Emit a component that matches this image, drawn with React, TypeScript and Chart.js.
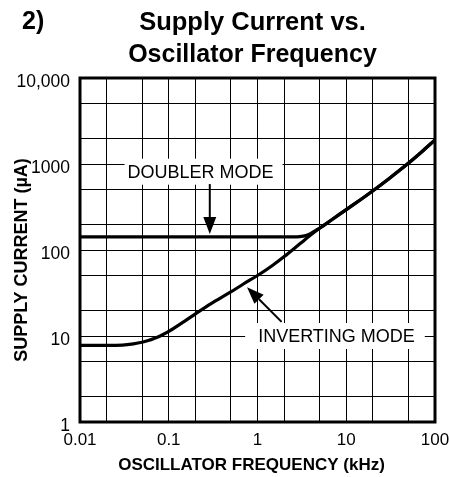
import React, { useEffect, useRef } from "react";
import { Chart, registerables } from "chart.js";

Chart.register(...registerables);

const FONT = '"Liberation Sans", Arial, Helvetica, sans-serif';

// ---- text ----
const figureNumber = "2)";
const titleLines = ["Supply Current vs.", "Oscillator Frequency"];
const xAxisTitle = "OSCILLATOR FREQUENCY (kHz)";
const yAxisTitle = "SUPPLY CURRENT (\u00b5A)";
const doublerLabel = "DOUBLER MODE";
const invertingLabel = "INVERTING MODE";

// ---- axes ----
const xMin = 0.01;
const xMax = 100;
const yMin = 1;
const yMax = 10000;
const xGridValues = [0.01, 0.02, 0.05, 0.1, 0.2, 0.5, 1, 2, 5, 10, 20, 50, 100];
const yGridValues = [1, 2, 5, 10, 20, 50, 100, 200, 500, 1000, 2000, 5000, 10000];
const xTickValues = [0.01, 0.1, 1, 10, 100];
const xTickLabels = ["0.01", "0.1", "1", "10", "100"];
const yTickValues = [1, 10, 100, 1000, 10000];
const yTickLabels = ["1", "10", "100", "1000", "10,000"];

// ---- series (kHz, µA) ----
const doublerFreq = [0.01, 0.1, 1, 2.5, 3, 3.5, 4, 4.5, 5, 7, 10, 15, 20, 30, 50, 70, 100];
const doublerCurrent = [142, 142, 142, 142, 143, 147, 156, 168, 179, 228, 295, 395, 489, 670, 1018, 1371, 1905];
const invertingFreq = [0.01, 0.02, 0.03, 0.04, 0.05, 0.06, 0.07, 0.08, 0.1, 0.15, 0.2, 0.3, 0.5, 0.7, 1, 1.5, 2, 3, 4, 5, 7, 10, 15, 20, 30, 50, 70, 100];
const invertingCurrent = [7.8, 7.8, 7.85, 8.1, 8.45, 8.9, 9.45, 10, 11.3, 14.8, 18.1, 23.8, 32.5, 40.5, 50.5, 67, 84, 118, 150, 179, 228, 295, 395, 489, 670, 1018, 1371, 1905];

// ---- annotation anchors (data coordinates) ----
const doublerLabelAt = { x: 0.228, y: 814 };
const doublerArrowFrom = { x: 0.29, y: 584 };
const doublerArrowTo = { x: 0.29, y: 153 };
const invertingLabelAt = { x: 7.76, y: 10 };
const invertingArrowFrom = { x: 1.87, y: 14.6 };
const invertingArrowTo = { x: 0.762, y: 36.9 };

function drawArrow(ctx: CanvasRenderingContext2D, x1: number, y1: number, x2: number, y2: number) {
  const ang = Math.atan2(y2 - y1, x2 - x1);
  const headLen = 17;
  const headHalf = 6.5;
  const bx = x2 - headLen * Math.cos(ang);
  const by = y2 - headLen * Math.sin(ang);
  ctx.save();
  ctx.strokeStyle = "#000";
  ctx.fillStyle = "#000";
  ctx.lineWidth = 2;
  ctx.beginPath();
  ctx.moveTo(x1, y1);
  ctx.lineTo(bx, by);
  ctx.stroke();
  ctx.beginPath();
  ctx.moveTo(x2, y2);
  ctx.lineTo(bx + headHalf * Math.sin(ang), by - headHalf * Math.cos(ang));
  ctx.lineTo(bx - headHalf * Math.sin(ang), by + headHalf * Math.cos(ang));
  ctx.closePath();
  ctx.fill();
  ctx.restore();
}

function drawBoxedLabel(
  ctx: CanvasRenderingContext2D,
  text: string,
  cx: number,
  cy: number,
  padL: number,
  padR: number
) {
  ctx.save();
  ctx.font = `18px ${FONT}`;
  const w = ctx.measureText(text).width;
  ctx.fillStyle = "#fff";
  ctx.fillRect(cx - w / 2 - padL, cy - 13, w + padL + padR, 26);
  ctx.fillStyle = "#000";
  ctx.textAlign = "center";
  ctx.textBaseline = "middle";
  ctx.fillText(text, cx, cy + 1);
  ctx.restore();
}

const decorPlugin = {
  id: "decor",
  afterDatasetsDraw(chart: any) {
    const { ctx, scales } = chart;
    const x = scales.x;
    const y = scales.y;
    drawBoxedLabel(ctx, doublerLabel, x.getPixelForValue(doublerLabelAt.x), y.getPixelForValue(doublerLabelAt.y), 3, 9);
    drawBoxedLabel(ctx, invertingLabel, x.getPixelForValue(invertingLabelAt.x), y.getPixelForValue(invertingLabelAt.y), 13, 10);
    drawArrow(
      ctx,
      x.getPixelForValue(doublerArrowFrom.x),
      y.getPixelForValue(doublerArrowFrom.y),
      x.getPixelForValue(doublerArrowTo.x),
      y.getPixelForValue(doublerArrowTo.y)
    );
    drawArrow(
      ctx,
      x.getPixelForValue(invertingArrowFrom.x),
      y.getPixelForValue(invertingArrowFrom.y),
      x.getPixelForValue(invertingArrowTo.x),
      y.getPixelForValue(invertingArrowTo.y)
    );
  },
  afterDraw(chart: any) {
    const { ctx, chartArea } = chart;
    const { left, right, top, bottom } = chartArea;
    ctx.save();
    // frame
    ctx.strokeStyle = "#000";
    ctx.lineWidth = 3;
    ctx.strokeRect(left, top, right - left, bottom - top);
    // titles
    ctx.fillStyle = "#000";
    ctx.textBaseline = "alphabetic";
    ctx.font = `bold 25px ${FONT}`;
    ctx.textAlign = "left";
    ctx.fillText(figureNumber, 22, 29);
    ctx.textAlign = "center";
    const tcx = (left + right) / 2 - 5;
    ctx.font = `bold 25.5px ${FONT}`;
    ctx.fillText(titleLines[0], tcx, 30);
    ctx.font = `bold 25px ${FONT}`;
    ctx.fillText(titleLines[1], tcx, 62);
    // x axis title
    ctx.font = `bold 17px ${FONT}`;
    ctx.fillText(xAxisTitle, (left + right) / 2 - 6, 470);
    // y axis title
    ctx.save();
    ctx.translate(27, (top + bottom) / 2 + 10);
    ctx.rotate(-Math.PI / 2);
    ctx.font = `bold 18px ${FONT}`;
    ctx.fillText(yAxisTitle, 0, 0);
    ctx.restore();
    ctx.restore();
  },
};

export default function App() {
  const canvasRef = useRef<HTMLCanvasElement | null>(null);

  useEffect(() => {
    if (!canvasRef.current) return;
    const chart = new Chart(canvasRef.current, {
      type: "line",
      data: {
        datasets: [
          {
            label: doublerLabel,
            data: doublerFreq.map((f, i) => ({ x: f, y: doublerCurrent[i] })),
            borderColor: "#000",
            borderWidth: 3.2,
            pointRadius: 0,
            cubicInterpolationMode: "monotone",
            fill: false,
          },
          {
            label: invertingLabel,
            data: invertingFreq.map((f, i) => ({ x: f, y: invertingCurrent[i] })),
            borderColor: "#000",
            borderWidth: 3.2,
            pointRadius: 0,
            cubicInterpolationMode: "monotone",
            fill: false,
          },
        ],
      },
      options: {
        animation: false,
        responsive: true,
        maintainAspectRatio: false,
        layout: { padding: { top: 78, right: 14, bottom: 0, left: 0 } },
        plugins: {
          legend: { display: false },
          tooltip: { enabled: false },
          title: { display: false },
        },
        scales: {
          x: {
            type: "logarithmic",
            min: xMin,
            max: xMax,
            border: { display: false },
            grid: { color: "#000", lineWidth: 1, drawTicks: false },
            afterBuildTicks: (scale: any) => {
              scale.ticks = xGridValues.map((v) => ({ value: v }));
            },
            afterFit: (scale: any) => {
              scale.height = 55;
              scale.paddingLeft = 0;
              scale.paddingRight = 0;
            },
            ticks: {
              autoSkip: false,
              maxRotation: 0,
              padding: 8,
              color: "#000",
              font: { family: FONT, size: 17 },
              callback: (v: any) => {
                const i = xTickValues.findIndex((t) => Math.abs(t - Number(v)) < 1e-9);
                return i >= 0 ? xTickLabels[i] : "";
              },
            },
          },
          y: {
            type: "logarithmic",
            min: yMin,
            max: yMax,
            border: { display: false },
            grid: { color: "#000", lineWidth: 1, drawTicks: false },
            afterBuildTicks: (scale: any) => {
              scale.ticks = yGridValues.map((v) => ({ value: v }));
            },
            afterFit: (scale: any) => {
              scale.width = 80;
              scale.paddingTop = 0;
              scale.paddingBottom = 0;
            },
            ticks: {
              autoSkip: false,
              padding: 10,
              labelOffset: 4,
              color: "#000",
              font: { family: FONT, size: 17.5 },
              callback: (v: any) => {
                const i = yTickValues.findIndex((t) => Math.abs(t - Number(v)) < 1e-9);
                return i >= 0 ? yTickLabels[i] : "";
              },
            },
          },
        },
      },
      plugins: [decorPlugin],
    } as any);
    return () => chart.destroy();
  }, []);

  return (
    <div style={{ position: "fixed", left: 0, top: 0, width: 449, height: 477, background: "#fff" }}>
      <canvas ref={canvasRef} />
    </div>
  );
}
